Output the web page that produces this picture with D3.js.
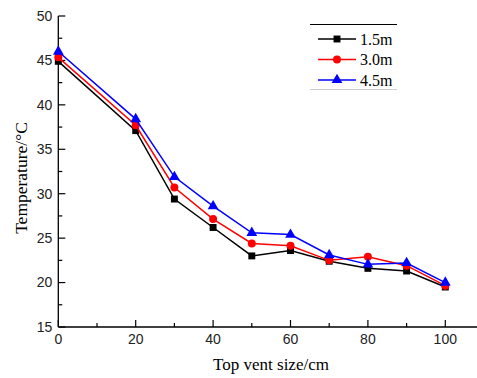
<!DOCTYPE html>
<html lang="en">
  <head>
    <meta charset="UTF-8" />
    <title>Temperature vs top vent size</title>
    <style>
      body { margin: 0; background: #fff; }
      svg { display: block; }
    </style>
    <script src="https://d3js.org/d3.v7.min.js"></script>
  </head>
  <body>
  <script>
    const ventSize = [0, 20, 30, 40, 50, 60, 70, 80, 90, 100]
    const temp15 = [44.9, 37.1, 29.4, 26.2, 23.0, 23.6, 22.4, 21.6, 21.3, 19.5]
    const temp30 = [45.35, 37.7, 30.7, 27.15, 24.4, 24.15, 22.5, 22.9, 21.9, 19.65]
    const temp45 = [46.0, 38.4, 31.9, 28.6, 25.6, 25.4, 23.1, 22.05, 22.2, 20.0]
    const seriesNames = ["1.5m", "3.0m", "4.5m"]
    const xTicks = [0, 20, 40, 60, 80, 100]
    const yTicks = [15, 20, 25, 30, 35, 40, 45, 50]

    const W = 477, H = 378

    const svg = d3.select("body").append("svg")
        .attr("width", W)
        .attr("height", H)

    const x = d3.scaleLinear().domain([0, 110]).range([58.3, 484])
    const y = d3.scaleLinear().domain([15, 50]).range([327, 16])

    // x axis
    const xAxis = svg.append("g").attr("transform", `translate(0,${y(15)})`)
    xAxis.append("line")
        .attr("x1", x(0)).attr("x2", W)
        .attr("stroke", "#000").attr("stroke-width", 1.3)
    xAxis.selectAll(".maj").data(xTicks).enter().append("line")
        .attr("x1", d => x(d)).attr("x2", d => x(d))
        .attr("y1", 0).attr("y2", -7)
        .attr("stroke", "#000").attr("stroke-width", 1.2)
    xAxis.selectAll(".min").data(d3.range(10, 111, 20)).enter().append("line")
        .attr("x1", d => x(d)).attr("x2", d => x(d))
        .attr("y1", 0).attr("y2", -4)
        .attr("stroke", "#000").attr("stroke-width", 1.2)
    xAxis.selectAll("text").data(xTicks).enter().append("text")
        .attr("x", d => x(d)).attr("y", 17)
        .attr("text-anchor", "middle")
        .attr("font-family", "Liberation Sans, Arial, sans-serif")
        .attr("font-size", 14)
        .attr("fill", "#222")
        .text(d => d)

    // y axis
    const yAxis = svg.append("g").attr("transform", `translate(${x(0)},0)`)
    yAxis.append("line")
        .attr("y1", y(15)).attr("y2", y(50))
        .attr("stroke", "#000").attr("stroke-width", 1.3)
    yAxis.selectAll(".maj").data(yTicks).enter().append("line")
        .attr("x1", 0).attr("x2", 7)
        .attr("y1", d => y(d)).attr("y2", d => y(d))
        .attr("stroke", "#000").attr("stroke-width", 1.2)
    yAxis.selectAll(".min").data(d3.range(17.5, 50, 5)).enter().append("line")
        .attr("x1", 0).attr("x2", 4)
        .attr("y1", d => y(d)).attr("y2", d => y(d))
        .attr("stroke", "#000").attr("stroke-width", 1.2)
    yAxis.selectAll("text").data(yTicks).enter().append("text")
        .attr("x", -6).attr("y", d => y(d))
        .attr("dy", "0.35em")
        .attr("text-anchor", "end")
        .attr("font-family", "Liberation Sans, Arial, sans-serif")
        .attr("font-size", 14)
        .attr("fill", "#222")
        .text(d => d)

    // axis titles
    svg.append("text")
        .attr("x", 271).attr("y", 370)
        .attr("text-anchor", "middle")
        .attr("font-family", "Liberation Serif, Times New Roman, serif")
        .attr("font-size", 17)
        .text("Top vent size/cm")
    svg.append("text")
        .attr("transform", "translate(27,178) rotate(-90)")
        .attr("text-anchor", "middle")
        .attr("font-family", "Liberation Serif, Times New Roman, serif")
        .attr("font-size", 17.5)
        .text("Temperature/\u00b0C")

    // series
    const series = [
      { name: seriesNames[0], values: temp15, color: "#000000", shape: d3.symbolSquare, size: 48 },
      { name: seriesNames[1], values: temp30, color: "#ff0000", shape: d3.symbolCircle, size: 50 },
      { name: seriesNames[2], values: temp45, color: "#0000ff", shape: d3.symbolTriangle, size: 50 }
    ]

    const line = d3.line()
        .x((d, i) => x(ventSize[i]))
        .y(d => y(d))

    series.forEach(s => {
      svg.append("path")
          .datum(s.values)
          .attr("fill", "none")
          .attr("stroke", s.color)
          .attr("stroke-width", 1.5)
          .attr("d", line)
      svg.selectAll(null).data(s.values).enter().append("path")
          .attr("transform", (d, i) => `translate(${x(ventSize[i])},${y(d)})`)
          .attr("d", d3.symbol().type(s.shape).size(s.size))
          .attr("fill", s.color)
    })

    // legend
    const lg = svg.append("g")
    lg.append("line").attr("x1", 310).attr("x2", 397).attr("y1", 24.5).attr("y2", 24.5)
        .attr("stroke", "#000").attr("stroke-width", 1)
    lg.append("line").attr("x1", 310).attr("x2", 397).attr("y1", 89.5).attr("y2", 89.5)
        .attr("stroke", "#ccc").attr("stroke-width", 1)
    series.forEach((s, i) => {
      const ly = 39 + i * 20.5
      lg.append("line").attr("x1", 318).attr("x2", 356).attr("y1", ly).attr("y2", ly)
          .attr("stroke", s.color).attr("stroke-width", 1.5)
      lg.append("path")
          .attr("transform", `translate(337,${ly})`)
          .attr("d", d3.symbol().type(s.shape).size(s.size))
          .attr("fill", s.color)
      lg.append("text")
          .attr("x", 360).attr("y", ly).attr("dy", "0.35em")
          .attr("font-family", "Liberation Serif, Times New Roman, serif")
          .attr("font-size", 16)
          .text(s.name)
    })
  </script>
  </body>
</html>
